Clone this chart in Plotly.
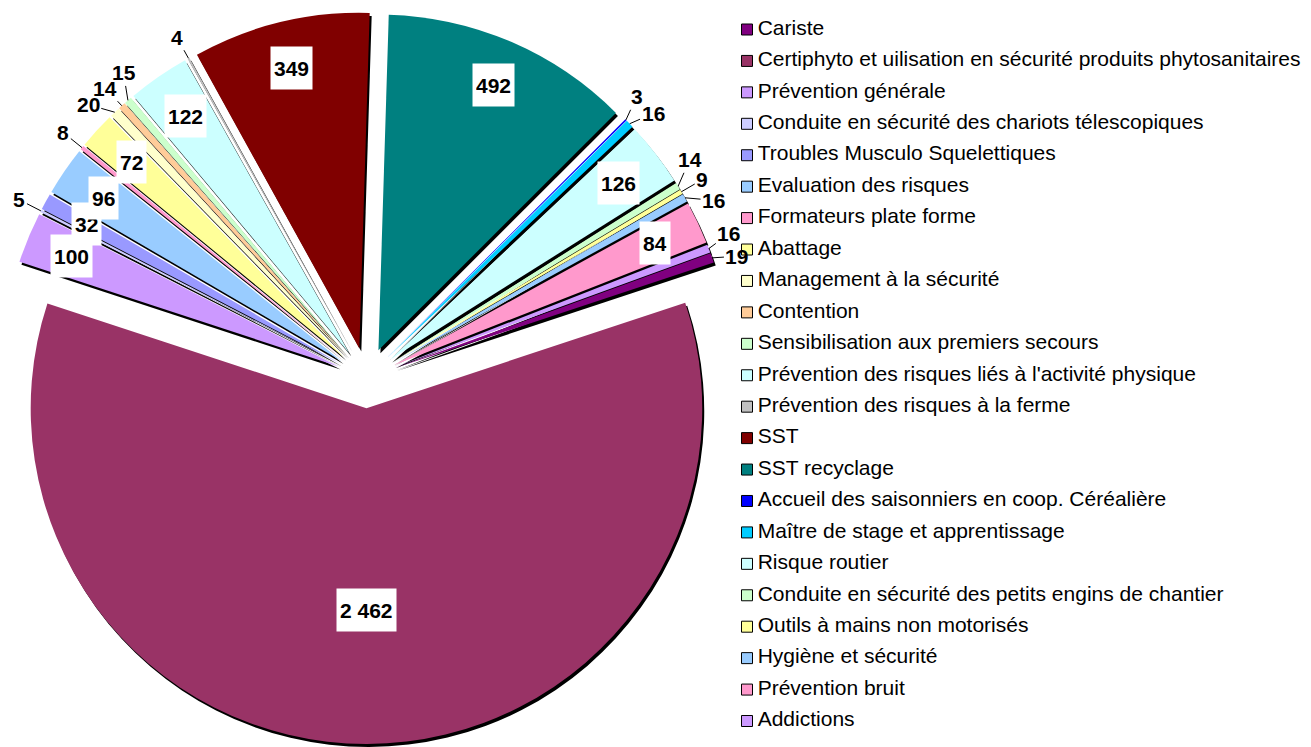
import math
import plotly.graph_objects as go

categories = [
    "Cariste",
    "Certiphyto et uilisation en sécurité produits phytosanitaires",
    "Prévention générale",
    "Conduite en sécurité des chariots télescopiques",
    "Troubles Musculo Squelettiques",
    "Evaluation des risques",
    "Formateurs plate forme",
    "Abattage",
    "Management à la sécurité",
    "Contention",
    "Sensibilisation aux premiers secours",
    "Prévention des risques liés à l'activité physique",
    "Prévention des risques à la ferme",
    "SST",
    "SST recyclage",
    "Accueil des saisonniers en coop. Céréalière",
    "Maître de stage et apprentissage",
    "Risque routier",
    "Conduite en sécurité des petits engins de chantier",
    "Outils à mains non motorisés",
    "Hygiène et sécurité",
    "Prévention bruit",
    "Addictions",
]
values = [19, 2462, 100, 5, 32, 96, 8, 72, 20, 14, 15, 122, 4, 349, 492,
          3, 16, 126, 14, 9, 16, 84, 16]
colors = [
    "#800080", "#993366", "#CC99FF", "#CCCCFF", "#9999FF", "#99CCFF",
    "#FF99CC", "#FFFF99", "#FFFFCC", "#FFCC99", "#CCFFCC", "#CCFFFF",
    "#C0C0C0", "#800000", "#008080", "#0000FF", "#00CCFF", "#CCFFFF",
    "#CCFFCC", "#FFFF99", "#99CCFF", "#FF99CC", "#CC99FF",
]

W, H = 1311, 747
TOP = 12
PULL = 0.09
ROT = 70
SH_X, SH_Y = 2, 3          # drop shadow offset, px
FONT = "Liberation Sans, Arial, sans-serif"

gs_w, gs_h = W, H - TOP
dom_x = [0, 0.559]
sy = SH_Y / gs_h
sx = SH_X / gs_w

# same geometry plotly uses for the pie
avail_w = gs_w * (dom_x[1] - dom_x[0])
avail_h = gs_h * (1 - sy)
r = min(avail_w, avail_h) / 2 / (1 + PULL)
cx = gs_w * (dom_x[0] + dom_x[1]) / 2
cy = TOP + avail_h / 2


def px2paper(x, y):
    return x / gs_w, 1 - (y - TOP) / gs_h


total = sum(values)
mids = []
cum = 0
for v in values:
    deg = (ROT + (cum + v / 2) / total * 360) % 360
    mids.append(math.radians(deg))
    cum += v

fig = go.Figure()

# shadow
fig.add_trace(go.Pie(
    values=values, labels=categories, sort=False, direction="clockwise",
    rotation=ROT, pull=PULL, textinfo="none", hoverinfo="skip",
    marker=dict(colors=["black"] * len(values), line=dict(width=0)),
    domain=dict(x=[dom_x[0] + sx, dom_x[1] + sx], y=[0, 1 - sy]),
    showlegend=False,
))
fig.add_trace(go.Pie(
    values=values, labels=categories, sort=False, direction="clockwise",
    rotation=ROT, pull=PULL, textinfo="none", hoverinfo="skip",
    marker=dict(colors=colors, line=dict(width=0)),
    domain=dict(x=dom_x, y=[sy, 1]),
    showlegend=False,
))

# labels
inside = []
outside = []
for i, v in enumerate(values):
    (inside if v >= 30 else outside).append(i)

for i in inside:
    a = mids[i]
    ax0 = cx + PULL * r * math.sin(a)
    ay0 = cy - PULL * r * math.cos(a)
    f = 0.6 if values[i] / total > 0.25 else 0.86
    x, y = px2paper(ax0 + f * r * math.sin(a), ay0 - f * r * math.cos(a))
    fig.add_annotation(
        x=x, y=y, xref="paper", yref="paper", showarrow=False,
        xanchor="center", yanchor="middle",
        text=f"{values[i]:,}".replace(",", " "),
        font=dict(family=FONT, size=21, color="black", weight="bold"),
        bgcolor="white", borderpad=3, height=36,
    )

# outside labels: spread angles so they do not collide
RL = r + 24
gap = 23 / RL
ang = {i: mids[i] for i in outside}
order = sorted(outside, key=lambda i: mids[i])
for _ in range(300):
    for k in range(len(order) - 1):
        i, j = order[k], order[k + 1]
        d = ang[j] - ang[i]
        if d < gap:
            push = (gap - d) / 2
            ang[i] -= push
            ang[j] += push

for i in outside:
    a = mids[i]
    ax0 = cx + PULL * r * math.sin(a)
    ay0 = cy - PULL * r * math.cos(a)
    tx = ax0 + r * math.sin(a)
    ty = ay0 - r * math.cos(a)
    lx = ax0 + RL * math.sin(ang[i])
    ly = ay0 - RL * math.cos(ang[i])
    x, y = px2paper(tx, ty)
    fig.add_annotation(
        x=x, y=y, xref="paper", yref="paper", showarrow=True,
        ax=lx - tx, ay=ly - ty, arrowhead=0, arrowwidth=1,
        arrowcolor="black", standoff=0,
        text=str(values[i]),
        font=dict(family=FONT, size=21, color="black", weight="bold"),
    )

# legend drawn as a scatter on its own axes
rows = list(range(len(categories)))
fig.add_trace(go.Scatter(
    x=[0] * len(rows), y=rows, mode="markers", hoverinfo="skip",
    marker=dict(symbol="square", size=11, color=colors,
                line=dict(color="black", width=1)),
    cliponaxis=False, showlegend=False,
))
fig.add_trace(go.Scatter(
    x=[10.7] * len(rows), y=rows, mode="text", text=categories,
    textposition="middle right", hoverinfo="skip",
    textfont=dict(family=FONT, size=21, color="black"),
    cliponaxis=False, showlegend=False,
))

# legend rows: first at y=29.5px, last at y=721px
row_px = (721 - 29.5) / (len(rows) - 1)
y_top = -(29.5 - TOP) / row_px
y_bot = y_top + gs_h / row_px

fig.update_layout(
    width=W, height=H,
    margin=dict(l=0, r=0, t=TOP, b=0),
    paper_bgcolor="white", plot_bgcolor="rgba(0,0,0,0)",
    xaxis=dict(domain=[747 / W, 1], range=[0, W - 747], visible=False,
               fixedrange=True),
    yaxis=dict(domain=[0, 1], range=[y_bot, y_top], visible=False,
               fixedrange=True),
)

fig.write_html("out.html", config={"displayModeBar": False},
               post_script="document.body.style.margin='0';")
